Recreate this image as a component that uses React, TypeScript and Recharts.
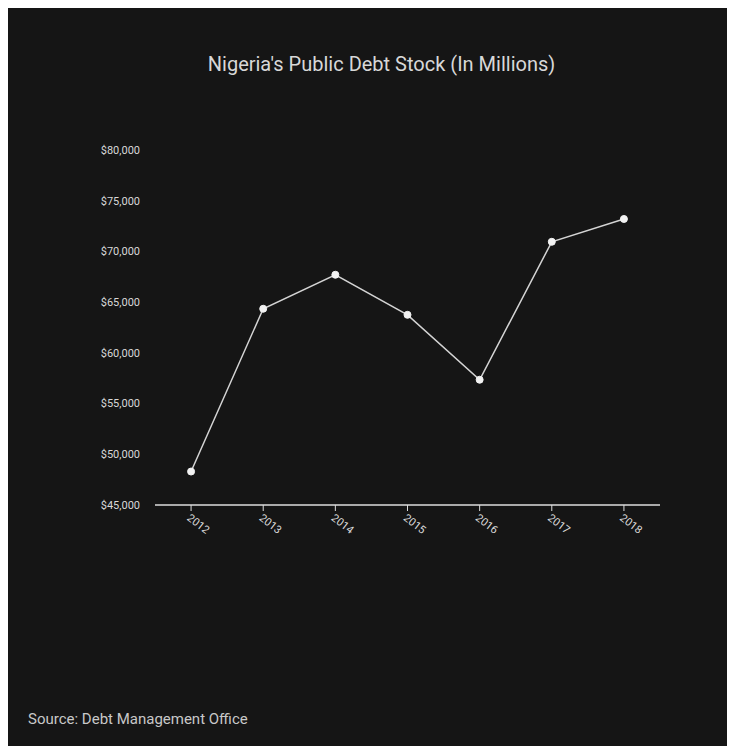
import React from 'react';
import { LineChart, Line, XAxis, YAxis } from 'recharts';

const years = ['2012', '2013', '2014', '2015', '2016', '2017', '2018'];
const debtStock = [48300, 64350, 67700, 63750, 57350, 70950, 73200];
const yTicks = [45000, 50000, 55000, 60000, 65000, 70000, 75000, 80000];

const data = years.map((year, i) => ({ year, debt: debtStock[i] }));

const fontStack = 'Roboto, "Liberation Sans", sans-serif';

const formatDollar = (v: number) => '$' + v.toLocaleString('en-US');

const App = () => {
  return (
    <div
      style={{
        position: 'relative',
        width: 727,
        height: 738,
        background: '#151515',
        fontFamily: fontStack,
      }}
    >
      <div
        style={{
          position: 'absolute',
          top: 44,
          left: 0,
          width: 747,
          textAlign: 'center',
          color: '#d8d8d8',
          fontSize: 20,
        }}
      >
        Nigeria's Public Debt Stock (In Millions)
      </div>

      <LineChart
        width={727}
        height={738}
        data={data}
        margin={{ top: 142, right: 75, bottom: 211, left: 0 }}
      >
        <XAxis
          dataKey="year"
          scale="band"
          axisLine={{ stroke: '#dcdcdc', strokeWidth: 1.5 }}
          tickLine={{ stroke: '#dcdcdc' }}
          tickSize={6}
          height={30}
          angle={38}
          textAnchor="start"
          tick={{ fill: '#d8d8d8', fontSize: 11, fontFamily: fontStack }}
        />
        <YAxis
          domain={[45000, 80000]}
          ticks={yTicks}
          width={147}
          axisLine={false}
          tickLine={false}
          tickSize={0}
          tickMargin={15}
          tickFormatter={formatDollar}
          tick={{ fill: '#d8d8d8', fontSize: 11, fontFamily: fontStack }}
        />
        <Line
          type="linear"
          dataKey="debt"
          stroke="#d4d4d4"
          strokeWidth={1.5}
          dot={{ r: 3.5, fill: '#f2f2f2', stroke: '#f2f2f2', strokeWidth: 1 }}
          activeDot={false}
          isAnimationActive={false}
        />
      </LineChart>

      <div
        style={{
          position: 'absolute',
          left: 20,
          top: 702,
          color: '#c8c8c8',
          fontSize: 15,
        }}
      >
        Source: Debt Management Office
      </div>
    </div>
  );
};

export default App;
